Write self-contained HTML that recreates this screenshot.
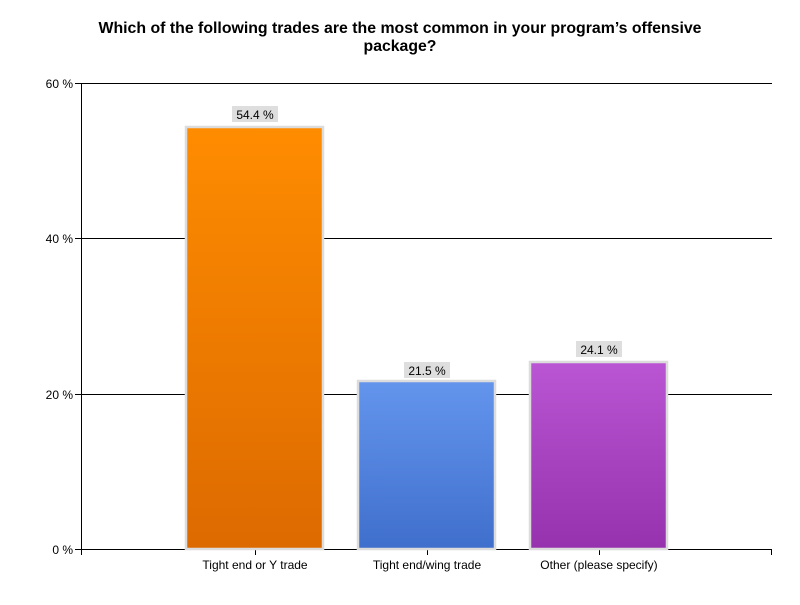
<!DOCTYPE html>
<html><head><meta charset="utf-8"><style>
html,body{margin:0;padding:0;background:#fff;}
svg text{font-family:"Liberation Sans",Arial,sans-serif;}
</style></head><body>
<svg width="800" height="600" viewBox="0 0 800 600" xmlns="http://www.w3.org/2000/svg">
<defs>
<linearGradient id="g1" x1="0" y1="0" x2="0" y2="1"><stop offset="0" stop-color="#ff8c00"/><stop offset="1" stop-color="#dc6a00"/></linearGradient>
<linearGradient id="g2" x1="0" y1="0" x2="0" y2="1"><stop offset="0" stop-color="#6495ed"/><stop offset="1" stop-color="#3f6fcc"/></linearGradient>
<linearGradient id="g3" x1="0" y1="0" x2="0" y2="1"><stop offset="0" stop-color="#ba55d3"/><stop offset="1" stop-color="#9632ad"/></linearGradient>
</defs>
<text x="400" y="33" text-anchor="middle" font-size="15.8" font-weight="bold" fill="#000" textLength="603" lengthAdjust="spacingAndGlyphs">Which of the following trades are the most common in your program’s offensive</text>
<text x="400" y="51" text-anchor="middle" font-size="15.8" font-weight="bold" fill="#000">package?</text>
<g stroke="#000" stroke-width="1" shape-rendering="crispEdges">
<line x1="75" y1="83.5" x2="772" y2="83.5"/>
<line x1="75" y1="238.5" x2="772" y2="238.5"/>
<line x1="75" y1="394.5" x2="772" y2="394.5"/>
<line x1="75" y1="549.5" x2="772" y2="549.5"/>
<line x1="81.5" y1="83" x2="81.5" y2="555"/>
<line x1="255.5" y1="549" x2="255.5" y2="555"/>
<line x1="427.5" y1="549" x2="427.5" y2="555"/>
<line x1="599.5" y1="549" x2="599.5" y2="555"/>
<line x1="771.5" y1="549" x2="771.5" y2="555"/>
</g>
<g font-size="12" fill="#000" text-anchor="end">
<text x="73" y="88">60 %</text>
<text x="73" y="243">40 %</text>
<text x="73" y="399">20 %</text>
<text x="73" y="554">0 %</text>
</g>
<g stroke="#dcdcdc" stroke-width="2.5">
<rect x="186" y="127" width="137" height="422" fill="url(#g1)"/>
<rect x="358" y="381" width="137" height="168" fill="url(#g2)"/>
<rect x="530" y="362" width="137" height="187" fill="url(#g3)"/>
</g>
<g fill="#dedede">
<rect x="232" y="106" width="46" height="16"/>
<rect x="404" y="362" width="46" height="16"/>
<rect x="576" y="341" width="46" height="16"/>
</g>
<g font-size="12" fill="#000" text-anchor="middle">
<text x="255" y="119">54.4 %</text>
<text x="427" y="375">21.5 %</text>
<text x="599" y="354">24.1 %</text>
<text x="255" y="569">Tight end or Y trade</text>
<text x="427" y="569">Tight end/wing trade</text>
<text x="599" y="569">Other (please specify)</text>
</g>
</svg>
</body></html>
